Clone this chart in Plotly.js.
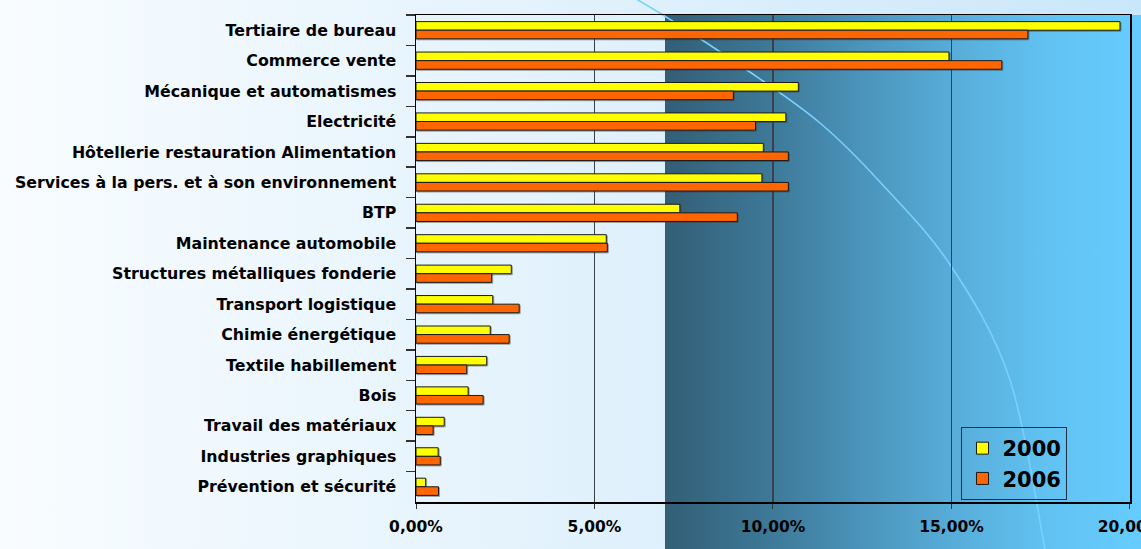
<!DOCTYPE html>
<html>
<head>
<meta charset="utf-8">
<script src="https://cdn.plot.ly/plotly-3.0.1.min.js"></script>
<style>
  html, body { margin: 0; padding: 0; }
  #wrap {
    position: relative; width: 1141px; height: 549px; overflow: hidden;
    background:
      linear-gradient(to right, #335e76 0%, #3c7694 20%, #4a92b9 40%, #57acd8 60%, #61c2f1 80%, #66ccff 100%) 665px 15px / 476px 534px no-repeat,
      linear-gradient(to right, #f8fcff 0%, #e9f5fd 35%, #def0fc 58%, #c9e7fb 100%);
  }
  #arc { position: absolute; left: 0; top: 0; }
  #chart { position: absolute; left: 0; top: 0; width: 1141px; height: 549px; }
  /* soft drop shadow under each bar */
  #chart .barlayer .point path { filter: drop-shadow(1.5px 1.5px 0 rgba(50, 55, 60, 0.45)); }
</style>
</head>
<body>
<div id="wrap">
  <svg id="arc" width="1141" height="549"><path id="arcPath" fill="none" stroke="#7ad0fd" stroke-width="1.6"/></svg>
  <div id="chart"></div>
</div>
<script>
// Sectors (top to bottom)
const categories = [
  "Tertiaire de bureau",
  "Commerce vente",
  "Mécanique et automatismes",
  "Electricité",
  "Hôtellerie restauration Alimentation",
  "Services à la pers. et à son environnement",
  "BTP",
  "Maintenance automobile",
  "Structures métalliques fonderie",
  "Transport logistique",
  "Chimie énergétique",
  "Textile habillement",
  "Bois",
  "Travail des matériaux",
  "Industries graphiques",
  "Prévention et sécurité"
];

// Share of each sector, in percent
const values2000 = [19.72, 14.93, 10.71, 10.36, 9.73, 9.69, 7.39, 5.33, 2.67, 2.15, 2.08, 1.98, 1.46, 0.79, 0.62, 0.27];
const values2006 = [17.14, 16.41, 8.89, 9.51, 10.43, 10.43, 9.00, 5.36, 2.12, 2.89, 2.61, 1.42, 1.88, 0.48, 0.68, 0.63];

const seriesNames = ["2000", "2006"];
const tickValues = [0, 5, 10, 15, 20];
const tickLabels = tickValues.map(v => v.toFixed(2).replace(".", ",") + "%");

// Decorative curve across the background
const arcPoints = [[620,-10],[663,15],[747,70],[820,123],[880,182],[951,266],[1010,380],[1045,549],[1048,570]];
(function () {
  const p = arcPoints;
  let d = "M" + p[0][0] + "," + p[0][1];
  for (let i = 0; i < p.length - 1; i++) {
    const p0 = p[Math.max(i - 1, 0)], p1 = p[i], p2 = p[i + 1], p3 = p[Math.min(i + 2, p.length - 1)];
    const c1 = [p1[0] + (p2[0] - p0[0]) / 6, p1[1] + (p2[1] - p0[1]) / 6];
    const c2 = [p2[0] - (p3[0] - p1[0]) / 6, p2[1] - (p3[1] - p1[1]) / 6];
    d += " C" + c1.join(",") + " " + c2.join(",") + " " + p2.join(",");
  }
  document.getElementById("arcPath").setAttribute("d", d);
})();

const fontFamily = "DejaVu Sans, Liberation Sans, Arial, sans-serif";

const traces = [
  {
    type: "bar", orientation: "h", name: seriesNames[0],
    y: categories, x: values2000,
    marker: { color: "#ffff00", line: { color: "#1a1a1a", width: 1 } },
    hoverinfo: "x+y"
  },
  {
    type: "bar", orientation: "h", name: seriesNames[1],
    y: categories, x: values2006,
    marker: { color: "#ff6600", line: { color: "#1a1a1a", width: 1 } },
    hoverinfo: "x+y"
  }
];

const layout = {
  width: 1141, height: 549,
  margin: { l: 416, r: 11, t: 15, b: 47, pad: 0 },
  paper_bgcolor: "rgba(0,0,0,0)",
  plot_bgcolor: "rgba(0,0,0,0)",
  barmode: "group",
  bargap: 0.435,
  bargroupgap: 0,
  font: { family: fontFamily, color: "#000", weight: 700 },
  xaxis: {
    range: [0, 20.001],
    tickmode: "array",
    tickvals: tickValues,
    ticktext: tickLabels,
    ticklabeloverflow: "allow",
    showgrid: true, gridcolor: "#3a4048", gridwidth: 1.5,
    zeroline: false,
    showline: true, linecolor: "#000", linewidth: 1.5, mirror: true,
    ticks: "outside", ticklen: 5, tickcolor: "#333", tickwidth: 1,
    ticklabelstandoff: 5,
    tickfont: { family: fontFamily, size: 15.5, color: "#000", weight: 700 },
    fixedrange: true
  },
  yaxis: {
    type: "category",
    autorange: "reversed",
    showgrid: false,
    zeroline: false,
    showline: true, linecolor: "#000", linewidth: 1.5, mirror: true,
    ticks: "outside", tickson: "boundaries", ticklen: 9, tickcolor: "#333", tickwidth: 1.5,
    ticklabelstandoff: 15,
    tickfont: { family: fontFamily, size: 15.8, color: "#000", weight: 700 },
    fixedrange: true
  },
  showlegend: true,
  legend: {
    x: 0.764, y: 0.154, xanchor: "left", yanchor: "top",
    bgcolor: "rgba(0,0,0,0)",
    bordercolor: "#1e3040", borderwidth: 1,
    font: { family: fontFamily, size: 21, color: "#000", weight: 700 },
    traceorder: "normal",
    itemwidth: 30
  }
};

Plotly.newPlot("chart", traces, layout, { displayModeBar: false, staticPlot: true });
</script>
</body>
</html>
